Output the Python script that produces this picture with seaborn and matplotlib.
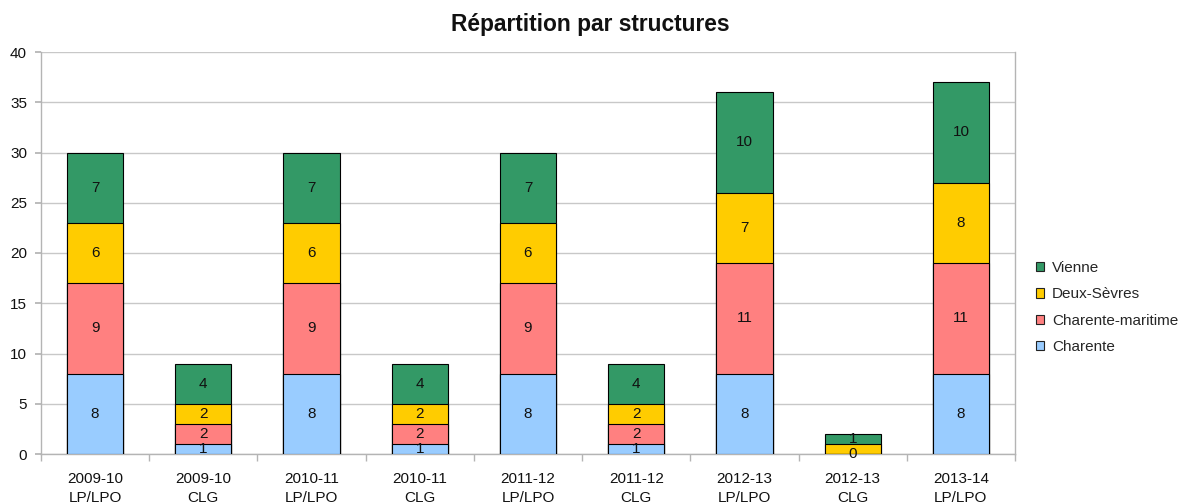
import numpy as np
import pandas as pd
import matplotlib
matplotlib.use("Agg")
import matplotlib.pyplot as plt
from matplotlib.patches import Patch
from matplotlib.ticker import FixedLocator
import seaborn as sns

# ---- data ----
categories = ["2009-10\nLP/LPO", "2009-10\nCLG", "2010-11\nLP/LPO", "2010-11\nCLG",
              "2011-12\nLP/LPO", "2011-12\nCLG", "2012-13\nLP/LPO", "2012-13\nCLG",
              "2013-14\nLP/LPO"]
series_names = ["Charente", "Charente-maritime", "Deux-Sèvres", "Vienne"]
charente = [8, 1, 8, 1, 8, 1, 8, 0, 8]
charente_maritime = [9, 2, 9, 2, 9, 2, 11, 0, 11]
deux_sevres = [6, 2, 6, 2, 6, 2, 7, 1, 8]
vienne = [7, 4, 7, 4, 7, 4, 10, 1, 10]
colors = ["#99CCFF", "#FF8080", "#FFCC00", "#339966"]
title = "Répartition par structures"

sns.set_theme(style="white")
plt.rcParams["font.family"] = ["Liberation Sans", "DejaVu Sans"]

values = np.array([charente, charente_maritime, deux_sevres, vienne], dtype=float)
cum = np.cumsum(values, axis=0)

fig = plt.figure(figsize=(11.78, 5.04), dpi=100)
ax = fig.add_axes([41 / 1178, (504 - 454) / 504, (1015 - 41) / 1178, (454 - 52) / 504])

# draw stacked bars: cumulative totals, top series first
for i in range(len(series_names) - 1, -1, -1):
    df = pd.DataFrame({"cat": categories, "val": cum[i]})
    sns.barplot(data=df, x="cat", y="val", order=categories, color=colors[i],
                saturation=1, width=0.52, edgecolor="black", linewidth=0.8,
                ax=ax, zorder=3)

# data labels
for j in range(len(categories)):
    placed = []
    for i in range(len(series_names)):
        v = values[i, j]
        bottom = cum[i, j] - v
        yc = bottom + v / 2
        if any(abs(yc - p) < 0.6 for p in placed):
            continue
        placed.append(yc)
        ax.text(j, yc, f"{int(v)}", ha="center", va="center", fontsize=11,
                color="#111111", zorder=5)

ax.set_xlim(-0.5, len(categories) - 0.5)
ax.set_ylim(0, 40)
ax.set_yticks(np.arange(0, 41, 5))
ax.set_xticks(range(len(categories)))
ax.set_xticklabels(categories, linespacing=1.45)
ax.set_xlabel("")
ax.set_ylabel("")
ax.grid(axis="y", color="#c8c8c8", linewidth=1, zorder=0)
ax.grid(axis="x", visible=False)
ax.set_axisbelow(True)
for s in ["left", "bottom", "right"]:
    ax.spines[s].set_visible(True)
    ax.spines[s].set_color("#b4b4b4")
    ax.spines[s].set_linewidth(1)
ax.spines["top"].set_visible(False)

ax.tick_params(axis="y", which="major", labelsize=11, length=4, color="#b4b4b4",
               pad=6, left=True, labelcolor="#111111")
ax.tick_params(axis="x", which="major", labelsize=11, length=0, pad=13,
               labelcolor="#111111")
ax.xaxis.set_minor_locator(FixedLocator(np.arange(-0.5, len(categories), 1.0)))
ax.tick_params(axis="x", which="minor", length=5, color="#b4b4b4", bottom=True)

fig.text(590 / 1178, 1 - 24 / 504, title, ha="center", va="center",
         fontsize=16.4, fontweight="bold", color="#111111")

handles = [Patch(facecolor=colors[i], edgecolor="#222222", linewidth=0.8,
                 label=series_names[i]) for i in range(len(series_names) - 1, -1, -1)]
fig.legend(handles=handles, loc="center left",
           bbox_to_anchor=(1036 / 1178, 1 - 307.5 / 504), frameon=False,
           fontsize=11, handlelength=0.55, handleheight=0.55, handletextpad=0.5,
           labelspacing=0.8, borderpad=0, borderaxespad=0)

fig.savefig("out.png", dpi=100)
